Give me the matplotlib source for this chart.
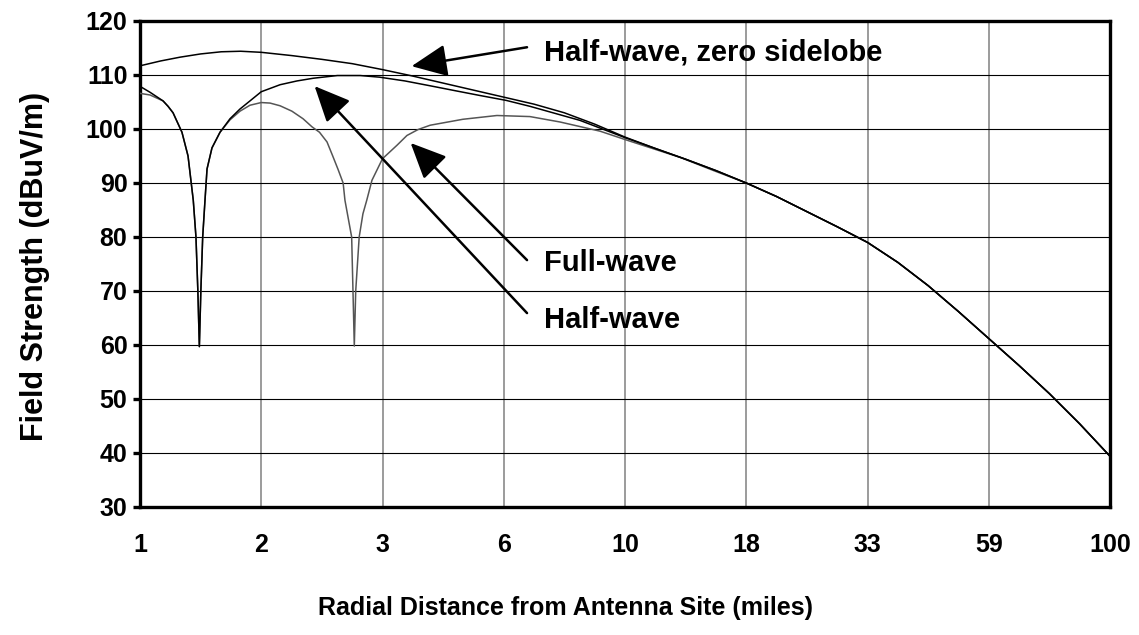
import numpy as np
import matplotlib
matplotlib.use("Agg")
import matplotlib.pyplot as plt
from matplotlib import font_manager

plt.rcParams['font.family'] = ['Liberation Sans', 'DejaVu Sans']
plt.rcParams['font.weight'] = 'bold'

names = {f.name for f in font_manager.fontManager.ttflist}
NARROW = 'Liberation Sans Narrow' if 'Liberation Sans Narrow' in names else None
print("narrow available:", NARROW)

# Category tick labels (miles)
tick_miles = [1, 2, 3, 6, 10, 18, 33, 59, 100]
tick_labels = ["1", "2", "3", "6", "10", "18", "33", "59", "100"]

# Half-wave, zero sidelobe
zs_miles = [1.0, 1.125, 1.257, 1.414, 1.591, 1.778, 2.0, 2.213, 2.449, 2.711, 3.0,
            3.568, 4.243, 5.045, 6.0, 6.817, 7.746, 8.801, 10.0, 11.58, 13.42, 15.54,
            18.0, 20.94, 24.37, 28.36, 33.0, 38.16, 44.12, 51.02, 59.0, 67.32, 76.81,
            87.64, 100.0]
zs_db = [111.7, 112.6, 113.3, 113.9, 114.3, 114.4, 114.2, 113.6, 112.9, 112.1, 111.0,
         109.8, 108.5, 107.2, 105.9, 104.6, 103.0, 100.9, 98.5, 96.4, 94.4, 92.3,
         90.0, 87.5, 84.7, 81.9, 79.0, 75.3, 71.0, 66.2, 61.2, 56.2, 51.0,
         45.4, 39.4]

# Half-wave
hw_miles = [1.0, 1.059, 1.141, 1.174, 1.208, 1.271, 1.316, 1.356, 1.377, 1.392, 1.404,
            1.416, 1.431, 1.450, 1.467, 1.509, 1.580, 1.673, 1.771, 1.875, 2.0, 2.13,
            2.254, 2.38, 2.58, 2.784, 2.97, 3.41, 3.94, 4.54, 5.24, 6.06, 6.70, 8.27,
            10.0, 11.58, 13.42, 15.54, 18.0, 20.94, 24.37, 28.36, 33.0, 38.16, 44.12,
            51.02, 59.0, 67.32, 76.81, 87.64, 100.0]
hw_db = [107.9, 106.8, 105.2, 104.2, 103.0, 99.4, 95.0, 86.8, 80.0, 70.0, 59.7,
         70.0, 80.0, 86.8, 92.6, 96.5, 99.4, 101.9, 103.7, 105.2, 106.9, 108.2,
         108.9, 109.4, 109.9, 109.9, 109.6, 108.9, 108.0, 107.1, 106.2, 105.3, 104.2, 101.6,
         98.4, 96.4, 94.4, 92.3, 90.0, 87.5, 84.7, 81.9, 79.0, 75.3, 71.0,
         66.2, 61.2, 56.2, 51.0, 45.4, 39.4]

# Full-wave
fw_miles = [1.0, 1.059, 1.141, 1.174, 1.208, 1.271, 1.316, 1.356, 1.377, 1.392, 1.404,
            1.416, 1.431, 1.450, 1.467, 1.509, 1.580, 1.673, 1.771, 1.875, 2.0, 2.06,
            2.13, 2.216, 2.30, 2.37, 2.43, 2.492, 2.54, 2.586, 2.63, 2.646, 2.706, 2.718,
            2.730, 2.743, 2.775, 2.81, 2.846, 2.896, 3.0, 3.26, 3.45, 3.676, 3.94, 4.75,
            5.77, 6.70, 7.604, 9.0, 10.2, 13.1, 15.47, 18.0, 20.94, 24.37, 28.36, 33.0,
            38.16, 44.12, 51.02, 59.0, 67.32, 76.81, 87.64, 100.0]
fw_db = [106.6, 106.3, 105.2, 104.2, 103.0, 99.4, 95.0, 86.8, 80.0, 70.0, 59.7,
         70.0, 80.0, 86.8, 92.6, 96.5, 99.4, 101.7, 103.3, 104.4, 104.9, 104.8,
         104.3, 103.3, 101.9, 100.4, 99.4, 97.6, 95.0, 92.5, 90.0, 86.8, 80.0, 70.0,
         59.8, 70.0, 80.0, 84.3, 86.8, 90.5, 94.5, 97.0, 98.8, 99.9, 100.7, 101.8,
         102.5, 102.3, 101.3, 99.6, 97.8, 94.7, 92.2, 90.0, 87.5, 84.7, 81.9, 79.0,
         75.3, 71.0, 66.2, 61.2, 56.2, 51.0, 45.4, 39.4]

y_ticks = [30, 40, 50, 60, 70, 80, 90, 100, 110, 120]

# Category-like axis: evenly spaced tick labels, log interpolation between them
log_t = np.log10(tick_miles)
idx = np.arange(len(tick_miles), dtype=float)

def fwd(x):
    x = np.asarray(x, dtype=float)
    return np.interp(np.log10(np.clip(x, 1e-9, None)), log_t, idx)

def inv(p):
    p = np.asarray(p, dtype=float)
    return 10 ** np.interp(p, idx, log_t)

if NARROW:
    hfam = [NARROW, 'Liberation Sans', 'DejaVu Sans']
    k = 1.2
else:
    hfam = ['Liberation Sans', 'DejaVu Sans']
    k = 1.0

fig = plt.figure(figsize=(11.39, 6.35), dpi=100)
ax = fig.add_axes([140 / 1139, 1 - 507 / 635, 970 / 1139, 486 / 635])
ax.set_xscale('function', functions=(fwd, inv))
ax.set_xlim(tick_miles[0], tick_miles[-1])
ax.set_ylim(y_ticks[0], y_ticks[-1])

ax.set_xticks(tick_miles)
ax.set_xticklabels(tick_labels)
ax.xaxis.set_minor_locator(matplotlib.ticker.NullLocator())
ax.set_yticks(y_ticks)

ax.grid(axis='x', color='#808080', lw=1.1, zorder=0)
ax.grid(axis='y', color='black', lw=0.8, zorder=0)

ax.plot(fw_miles, fw_db, color='#555555', lw=1.1, zorder=3)
ax.plot(hw_miles, hw_db, color='black', lw=1.1, zorder=4)
ax.plot(zs_miles, zs_db, color='black', lw=1.1, zorder=5)

for s in ax.spines.values():
    s.set_linewidth(2.4)
    s.set_color('black')

ax.tick_params(axis='x', length=0, pad=19, labelsize=18 * k)
ax.tick_params(axis='y', length=5, width=2.4, pad=4, labelsize=18 * k)
for lab in ax.get_xticklabels() + ax.get_yticklabels():
    lab.set_fontweight('bold')
    lab.set_family(hfam)

fig.text(35 / 1139, 1 - 266 / 635, "Field Strength (dBuV/m)", rotation=90,
         ha='center', va='center', fontsize=22, fontweight='bold')
fig.text(565 / 1139, 1 - 608 / 635, "Radial Distance from Antenna Site (miles)",
         ha='center', va='center', fontsize=18 * k, fontweight='bold', family=hfam)

aprops = dict(arrowstyle='-|>,head_length=1.1,head_width=0.5', color='black',
              lw=1.8, mutation_scale=20, shrinkA=0, shrinkB=0)
ax.annotate("", xy=(0.280, 0.907), xytext=(0.399, 0.946), xycoords='axes fraction',
            textcoords='axes fraction', arrowprops=aprops)
ax.annotate("", xy=(0.180, 0.866), xytext=(0.399, 0.399), xycoords='axes fraction',
            textcoords='axes fraction', arrowprops=aprops)
ax.annotate("", xy=(0.279, 0.749), xytext=(0.399, 0.508), xycoords='axes fraction',
            textcoords='axes fraction', arrowprops=aprops)

for txt, yy in [("Half-wave, zero sidelobe", 0.936), ("Full-wave", 0.502),
                ("Half-wave", 0.385)]:
    ax.text(0.416, yy, txt, transform=ax.transAxes, ha='left', va='center',
            fontsize=21 * k, fontweight='bold', family=hfam, zorder=6)

fig.savefig("out.png", dpi=100)
